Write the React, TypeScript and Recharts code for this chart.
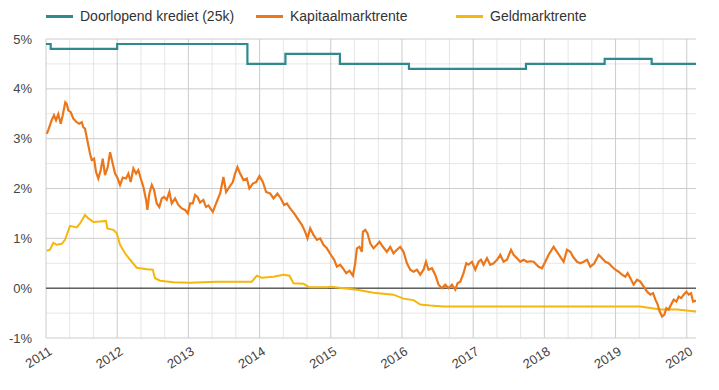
import { Line, LineChart, ReferenceLine, XAxis, YAxis } from "recharts";

const seriesNames = ["Doorlopend krediet (25k)", "Kapitaalmarktrente", "Geldmarktrente"];
const colors = ["#2f8a90", "#ec771b", "#f5b70d"];
const legendWidths = [210, 200, 200];

const yearTicks = [2011, 2012, 2013, 2014, 2015, 2016, 2017, 2018, 2019, 2020];
const percentTicks = [-1, 0, 1, 2, 3, 4, 5];
const halfPercents = [-0.5, 0.5, 1.5, 2.5, 3.5, 4.5];

// [jaar, rente %]
const doorlopendKrediet: [number, number][] = [
  [2011.0, 4.9], [2011.066, 4.8], [2012.0, 4.9], [2013.829, 4.5], [2014.363, 4.7],
  [2015.128, 4.5], [2016.098, 4.4], [2017.742, 4.5], [2018.847, 4.6], [2019.507, 4.5],
  [2020.13, 4.5],
];

const kapitaalmarktrente: [number, number][] = [
  [2011.01, 3.1], [2011.032, 3.17], [2011.08, 3.37], [2011.112, 3.47], [2011.141, 3.37],
  [2011.173, 3.49], [2011.207, 3.3], [2011.235, 3.47], [2011.271, 3.73], [2011.291, 3.7],
  [2011.313, 3.57], [2011.347, 3.53], [2011.384, 3.4], [2011.431, 3.33], [2011.468, 3.3],
  [2011.502, 3.33], [2011.524, 3.23], [2011.548, 3.2], [2011.572, 3.03], [2011.618, 2.7],
  [2011.642, 2.57], [2011.675, 2.6], [2011.703, 2.33], [2011.735, 2.2], [2011.769, 2.37],
  [2011.797, 2.6], [2011.829, 2.27], [2011.867, 2.43], [2011.9, 2.73], [2011.937, 2.5],
  [2011.97, 2.3], [2012.002, 2.22], [2012.04, 2.07], [2012.078, 2.22], [2012.124, 2.2],
  [2012.157, 2.3], [2012.19, 2.13], [2012.227, 2.4], [2012.265, 2.3], [2012.297, 2.37],
  [2012.331, 2.2], [2012.368, 2.03], [2012.406, 1.77], [2012.424, 1.57], [2012.452, 1.9],
  [2012.486, 2.07], [2012.518, 1.97], [2012.556, 1.7], [2012.592, 1.63], [2012.626, 1.8],
  [2012.658, 1.83], [2012.696, 1.77], [2012.733, 1.93], [2012.767, 1.7], [2012.813, 1.8],
  [2012.859, 1.67], [2012.907, 1.6], [2012.954, 1.57], [2012.992, 1.5], [2013.024, 1.7],
  [2013.062, 1.7], [2013.094, 1.87], [2013.127, 1.83], [2013.164, 1.72], [2013.211, 1.77],
  [2013.235, 1.67], [2013.249, 1.63], [2013.281, 1.66], [2013.343, 1.53], [2013.389, 1.7],
  [2013.446, 1.9], [2013.492, 2.23], [2013.53, 1.93], [2013.576, 2.03], [2013.624, 2.13],
  [2013.656, 2.3], [2013.689, 2.43], [2013.727, 2.3], [2013.773, 2.17], [2013.821, 2.2],
  [2013.857, 2.0], [2013.905, 2.1], [2013.952, 2.13], [2013.998, 2.25], [2014.046, 2.13],
  [2014.092, 1.93], [2014.148, 1.9], [2014.195, 1.8], [2014.251, 1.9], [2014.299, 1.8],
  [2014.345, 1.67], [2014.383, 1.7], [2014.429, 1.6], [2014.486, 1.5], [2014.546, 1.37],
  [2014.594, 1.27], [2014.64, 1.13], [2014.673, 1.0], [2014.711, 1.2], [2014.757, 1.07],
  [2014.805, 0.97], [2014.851, 1.0], [2014.897, 0.87], [2014.945, 0.8], [2015.001, 0.67],
  [2015.048, 0.57], [2015.086, 0.43], [2015.132, 0.47], [2015.17, 0.4], [2015.217, 0.3],
  [2015.263, 0.35], [2015.311, 0.25], [2015.343, 0.5], [2015.367, 0.8], [2015.403, 0.83],
  [2015.437, 0.73], [2015.451, 1.13], [2015.484, 1.17], [2015.516, 1.1], [2015.554, 0.9],
  [2015.6, 0.8], [2015.648, 0.87], [2015.685, 0.93], [2015.732, 0.83], [2015.788, 0.73],
  [2015.835, 0.83], [2015.881, 0.7], [2015.929, 0.77], [2015.975, 0.83], [2016.022, 0.73],
  [2016.07, 0.5], [2016.116, 0.37], [2016.162, 0.33], [2016.21, 0.37], [2016.257, 0.27],
  [2016.303, 0.37], [2016.337, 0.53], [2016.373, 0.37], [2016.421, 0.4], [2016.467, 0.27],
  [2016.514, 0.07], [2016.561, 0.0], [2016.608, 0.07], [2016.654, 0.0], [2016.702, 0.07],
  [2016.749, -0.03], [2016.781, 0.1], [2016.819, 0.13], [2016.865, 0.3], [2016.903, 0.5],
  [2016.935, 0.47], [2016.983, 0.53], [2017.03, 0.37], [2017.076, 0.53], [2017.11, 0.57],
  [2017.146, 0.47], [2017.194, 0.6], [2017.24, 0.47], [2017.287, 0.5], [2017.335, 0.57],
  [2017.381, 0.67], [2017.427, 0.53], [2017.475, 0.57], [2017.531, 0.77], [2017.568, 0.67],
  [2017.616, 0.6], [2017.662, 0.53], [2017.708, 0.57], [2017.756, 0.53], [2017.803, 0.54],
  [2017.849, 0.53], [2017.919, 0.43], [2017.967, 0.4], [2018.013, 0.53], [2018.06, 0.67],
  [2018.13, 0.83], [2018.178, 0.73], [2018.224, 0.63], [2018.271, 0.53], [2018.318, 0.77],
  [2018.365, 0.73], [2018.403, 0.63], [2018.459, 0.53], [2018.505, 0.5], [2018.552, 0.53],
  [2018.6, 0.57], [2018.646, 0.43], [2018.702, 0.5], [2018.763, 0.67], [2018.81, 0.6],
  [2018.857, 0.53], [2018.903, 0.5], [2018.951, 0.43], [2018.997, 0.37], [2019.044, 0.33],
  [2019.091, 0.27], [2019.138, 0.23], [2019.17, 0.3], [2019.208, 0.2], [2019.254, 0.07],
  [2019.302, 0.17], [2019.349, 0.13], [2019.395, 0.03], [2019.443, -0.07], [2019.489, -0.13],
  [2019.527, -0.1], [2019.56, -0.23], [2019.592, -0.33], [2019.62, -0.47], [2019.654, -0.57],
  [2019.686, -0.53], [2019.714, -0.4], [2019.746, -0.43], [2019.78, -0.33], [2019.817, -0.23],
  [2019.855, -0.27], [2019.887, -0.17], [2019.921, -0.2], [2019.957, -0.13], [2019.995, -0.07],
  [2020.028, -0.13], [2020.061, -0.1], [2020.089, -0.27], [2020.13, -0.25],
];

const geldmarktrente: [number, number][] = [
  [2011.01, 0.75], [2011.056, 0.77], [2011.103, 0.91], [2011.15, 0.87], [2011.221, 0.89],
  [2011.267, 0.97], [2011.337, 1.25], [2011.431, 1.22], [2011.478, 1.3], [2011.548, 1.47],
  [2011.595, 1.4], [2011.665, 1.33], [2011.759, 1.34], [2011.843, 1.35], [2011.862, 1.2],
  [2011.946, 1.17], [2011.994, 1.1], [2012.04, 0.87], [2012.11, 0.7], [2012.181, 0.57],
  [2012.275, 0.41], [2012.415, 0.38], [2012.5, 0.37], [2012.532, 0.2], [2012.602, 0.15],
  [2012.789, 0.12], [2013.024, 0.11], [2013.399, 0.13], [2013.891, 0.13], [2013.961, 0.25],
  [2014.032, 0.21], [2014.195, 0.23], [2014.335, 0.27], [2014.42, 0.25], [2014.476, 0.1],
  [2014.616, 0.09], [2014.696, 0.02], [2014.945, 0.02], [2014.992, 0.03], [2015.179, 0.0],
  [2015.367, -0.03], [2015.6, -0.09], [2015.881, -0.13], [2016.022, -0.21], [2016.162, -0.24],
  [2016.257, -0.33], [2016.397, -0.35], [2016.584, -0.37], [2019.349, -0.37], [2019.489, -0.4],
  [2019.63, -0.43], [2019.864, -0.43], [2020.13, -0.47],
];

const toPoints = (rows: [number, number][]) => rows.map(([t, v]) => ({ t, v }));

const minorX = yearTicks.flatMap((y) => [y + 1 / 3, y + 2 / 3]).filter((t) => t < 2020.13);

const XTick = ({ x, y, payload }: any) => (
  <g transform={`translate(${x + 2},${y})`}>
    <text textAnchor="end" transform="rotate(-32)" fill="#444" fontSize={13} dy={9}>
      {payload.value}
    </text>
  </g>
);

function Legend() {
  return (
    <div style={{ position: "absolute", top: 8, left: 46, display: "flex", fontSize: 14, color: "#333" }}>
      {seriesNames.map((name, i) => (
        <div key={name} style={{ display: "flex", alignItems: "center", width: legendWidths[i], whiteSpace: "nowrap" }}>
          <span style={{ display: "inline-block", width: 27, height: 3, background: colors[i], marginRight: 7 }} />
          {name}
        </div>
      ))}
    </div>
  );
}

export default function App() {
  return (
    <div style={{ position: "relative", width: 719, height: 390, fontFamily: "Arial, 'Liberation Sans', sans-serif" }}>
      <style>{`body{margin:0}`}</style>
      <Legend />
      <LineChart width={719} height={390} margin={{ top: 39, right: 23, bottom: 0, left: 6 }}>
        {/* fijn raster: 4 maanden en halve procenten */}
        {minorX.map((t) => (
          <ReferenceLine key={"x" + t} x={t} stroke="#e6e6e6" ifOverflow="discard" />
        ))}
        {halfPercents.map((p) => (
          <ReferenceLine key={"y" + p} y={p} stroke="#e6e6e6" ifOverflow="discard" />
        ))}
        {/* hoofdraster: jaren en hele procenten */}
        {percentTicks.map((p) => (
          <ReferenceLine key={"p" + p} y={p} stroke="#cccccc" ifOverflow="discard" />
        ))}
        {yearTicks.map((t) => (
          <ReferenceLine key={"j" + t} x={t} stroke="#cccccc" ifOverflow="discard" />
        ))}
        <XAxis
          dataKey="t"
          type="number"
          domain={[2011, 2020.13]}
          ticks={yearTicks}
          axisLine={false}
          tickLine={false}
          height={52}
          tick={<XTick />}
        />
        <YAxis
          type="number"
          domain={[-1, 5]}
          ticks={percentTicks}
          width={40}
          axisLine={false}
          tickLine={false}
          tickMargin={8}
          tickFormatter={(v) => `${v}%`}
          tick={{ fill: "#444", fontSize: 13 }}
        />
        <ReferenceLine y={0} stroke="#222" ifOverflow="discard" />
        <Line data={toPoints(geldmarktrente)} dataKey="v" name={seriesNames[2]} stroke={colors[2]} strokeWidth={2} dot={false} isAnimationActive={false} />
        <Line data={toPoints(kapitaalmarktrente)} dataKey="v" name={seriesNames[1]} stroke={colors[1]} strokeWidth={2.2} dot={false} isAnimationActive={false} />
        <Line data={toPoints(doorlopendKrediet)} dataKey="v" name={seriesNames[0]} type="stepAfter" stroke={colors[0]} strokeWidth={2.2} dot={false} isAnimationActive={false} />
      </LineChart>
      {/* rechterrand van het plotvlak open laten */}
      <div style={{ position: "absolute", left: 696, top: 34, width: 23, height: 310, background: "#fff", pointerEvents: "none" }} />
    </div>
  );
}
